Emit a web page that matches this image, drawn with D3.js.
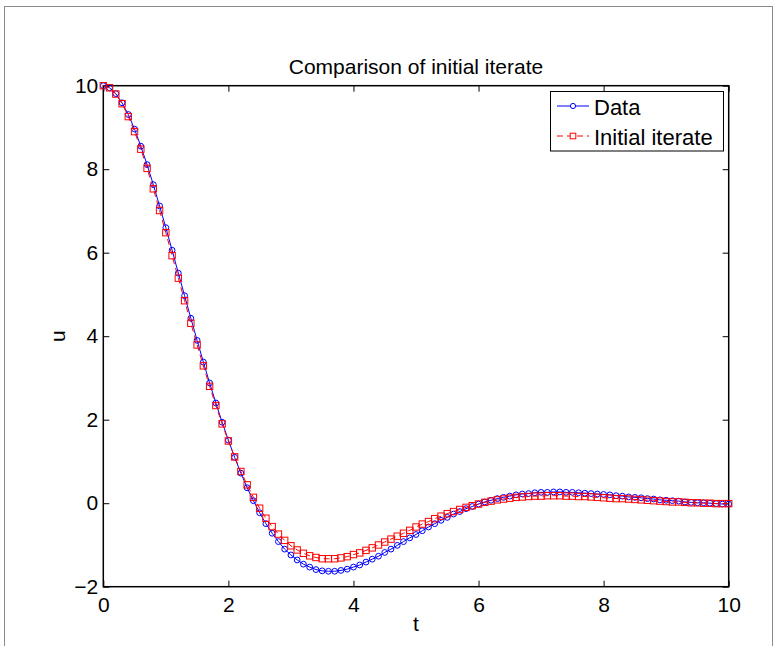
<!DOCTYPE html>
<html>
<head>
<meta charset="utf-8">
<script src="https://cdn.jsdelivr.net/npm/d3@7"></script>
<style>
	body { margin: 0; background: #fff; }
	text { font-family: "Liberation Sans", Arial, sans-serif; fill: #000; }
	.tick line { stroke: #000; stroke-width: 1; }
</style>
</head>
<body>
<script>
//comparison plot: data vs initial iterate, matlab-ish look
(function(){

//sample times t = 0 .. 10, step 0.1
var tValues = [0, 0.1, 0.2, 0.3, 0.4, 0.5, 0.6, 0.7, 0.8, 0.9,
	1, 1.1, 1.2, 1.3, 1.4, 1.5, 1.6, 1.7, 1.8, 1.9,
	2, 2.1, 2.2, 2.3, 2.4, 2.5, 2.6, 2.7, 2.8, 2.9,
	3, 3.1, 3.2, 3.3, 3.4, 3.5, 3.6, 3.7, 3.8, 3.9,
	4, 4.1, 4.2, 4.3, 4.4, 4.5, 4.6, 4.7, 4.8, 4.9,
	5, 5.1, 5.2, 5.3, 5.4, 5.5, 5.6, 5.7, 5.8, 5.9,
	6, 6.1, 6.2, 6.3, 6.4, 6.5, 6.6, 6.7, 6.8, 6.9,
	7, 7.1, 7.2, 7.3, 7.4, 7.5, 7.6, 7.7, 7.8, 7.9,
	8, 8.1, 8.2, 8.3, 8.4, 8.5, 8.6, 8.7, 8.8, 8.9,
	9, 9.1, 9.2, 9.3, 9.4, 9.5, 9.6, 9.7, 9.8, 9.9, 10];

//"Data" series (blue circles)
var dataValues = [10.00, 9.95, 9.81, 9.59, 9.31, 8.96, 8.55, 8.11, 7.63, 7.12,
	6.60, 6.06, 5.51, 4.97, 4.43, 3.90, 3.38, 2.88, 2.40, 1.94,
	1.51, 1.10, 0.72, 0.37, 0.06, -0.23, -0.49, -0.72, -0.92, -1.10,
	-1.24, -1.36, -1.46, -1.53, -1.59, -1.62, -1.63, -1.63, -1.61, -1.58,
	-1.53, -1.48, -1.41, -1.34, -1.27, -1.18, -1.10, -1.01, -0.92, -0.83,
	-0.75, -0.66, -0.57, -0.49, -0.41, -0.34, -0.26, -0.20, -0.13, -0.08,
	-0.02, 0.03, 0.07, 0.11, 0.14, 0.17, 0.20, 0.22, 0.23, 0.25,
	0.26, 0.26, 0.27, 0.27, 0.26, 0.26, 0.25, 0.24, 0.23, 0.22,
	0.21, 0.20, 0.18, 0.17, 0.15, 0.14, 0.13, 0.11, 0.10, 0.08,
	0.07, 0.06, 0.05, 0.03, 0.02, 0.01, 0.01, 0.00, -0.01, -0.02, -0.02];

//"Initial iterate" series (red squares, dashed)
var iterateValues = [10.00, 9.95, 9.80, 9.57, 9.26, 8.90, 8.48, 8.02, 7.53, 7.01,
	6.48, 5.93, 5.39, 4.85, 4.31, 3.79, 3.29, 2.80, 2.34, 1.90,
	1.49, 1.11, 0.76, 0.44, 0.14, -0.12, -0.36, -0.56, -0.74, -0.89,
	-1.02, -1.12, -1.20, -1.26, -1.30, -1.33, -1.33, -1.33, -1.31, -1.28,
	-1.23, -1.19, -1.13, -1.07, -1.00, -0.93, -0.86, -0.79, -0.72, -0.65,
	-0.57, -0.50, -0.44, -0.37, -0.31, -0.25, -0.20, -0.15, -0.10, -0.06,
	-0.02, 0.02, 0.05, 0.08, 0.10, 0.12, 0.14, 0.15, 0.16, 0.17,
	0.17, 0.18, 0.18, 0.18, 0.17, 0.17, 0.16, 0.16, 0.15, 0.14,
	0.13, 0.12, 0.11, 0.11, 0.10, 0.09, 0.08, 0.07, 0.06, 0.05,
	0.04, 0.03, 0.03, 0.02, 0.01, 0.01, 0.00, 0.00, -0.01, -0.01, -0.01];

//axis ticks + labels
var xTicks = [0, 2, 4, 6, 8, 10];
var yTicks = [-2, 0, 2, 4, 6, 8, 10];
var seriesNames = ["Data", "Initial iterate"];
var titleText = "Comparison of initial iterate";
var xLabel = "t", yLabel = "u";

window.onload = drawChart();

function drawChart(){

	var w = 775, h = 646;
	//plot box in page pixels
	var left = 103.3, right = 728.7, top = 85.7, bottom = 586.7;

	var svg = d3.select("body")
		.append("svg")
		.attr("width", w)
		.attr("height", h);

	//grey figure frame
	svg.append("rect")
		.attr("x", 4.5)
		.attr("y", 6.5)
		.attr("width", 768)
		.attr("height", 700)
		.attr("fill", "none")
		.attr("stroke", "#8a8a8a")
		.attr("stroke-width", 1);

	//scales
	var x = d3.scaleLinear()
		.domain([0, 10])
		.range([left, right]);

	var y = d3.scaleLinear()
		.domain([-2, 10])
		.range([bottom, top]);

	//AXES - ticks point inward, matlab style, on all four sides
	var fmt = d3.format("d"); //d3 gives the real minus sign

	svg.append("g")
		.attr("transform", "translate(0," + bottom + ")")
		.call(d3.axisBottom(x).tickValues(xTicks).tickFormat(fmt).tickSizeInner(-6).tickSizeOuter(0).tickPadding(10))
		.call(styleAxis);

	svg.append("g")
		.attr("transform", "translate(0," + top + ")")
		.call(d3.axisTop(x).tickValues(xTicks).tickFormat("").tickSizeInner(-6).tickSizeOuter(0))
		.call(styleAxis);

	svg.append("g")
		.attr("transform", "translate(" + left + ",0)")
		.call(d3.axisLeft(y).tickValues(yTicks).tickFormat(fmt).tickSizeInner(-6).tickSizeOuter(0).tickPadding(5))
		.call(styleAxis);

	svg.append("g")
		.attr("transform", "translate(" + right + ",0)")
		.call(d3.axisRight(y).tickValues(yTicks).tickFormat("").tickSizeInner(-6).tickSizeOuter(0))
		.call(styleAxis);

	//box around plot area
	svg.append("rect")
		.attr("x", left)
		.attr("y", top)
		.attr("width", right - left)
		.attr("height", bottom - top)
		.attr("fill", "none")
		.attr("stroke", "#000")
		.attr("stroke-width", 1.5);

	//SERIES
	var dataPts = tValues.map(function(t, i){ return {t: t, u: dataValues[i]}; });
	var iterPts = tValues.map(function(t, i){ return {t: t, u: iterateValues[i]}; });

	var line = d3.line()
		.x(function(d){ return x(d.t); })
		.y(function(d){ return y(d.u); });

	//blue line + circles first
	svg.append("path")
		.datum(dataPts)
		.attr("d", line)
		.attr("fill", "none")
		.attr("stroke", "#0000ff")
		.attr("stroke-width", 1);

	svg.selectAll(".dataMarker")
		.data(dataPts)
		.enter()
		.append("circle")
		.attr("class", "dataMarker")
		.attr("cx", function(d){ return x(d.t); })
		.attr("cy", function(d){ return y(d.u); })
		.attr("r", 2.9)
		.attr("fill", "none")
		.attr("stroke", "#0000ff")
		.attr("stroke-width", 1);

	//red dashed + squares on top
	svg.append("path")
		.datum(iterPts)
		.attr("d", line)
		.attr("fill", "none")
		.attr("stroke", "#ff0000")
		.attr("stroke-width", 1)
		.attr("stroke-dasharray", "6,4");

	var sq = 6.4;
	svg.selectAll(".iterMarker")
		.data(iterPts)
		.enter()
		.append("rect")
		.attr("class", "iterMarker")
		.attr("x", function(d){ return x(d.t) - sq/2; })
		.attr("y", function(d){ return y(d.u) - sq/2; })
		.attr("width", sq)
		.attr("height", sq)
		.attr("fill", "none")
		.attr("stroke", "#ff0000")
		.attr("stroke-width", 1);

	//TEXT
	svg.append("text")
		.attr("x", (left + right) / 2)
		.attr("y", 74)
		.attr("text-anchor", "middle")
		.style("font-size", "21px")
		.text(titleText);

	svg.append("text")
		.attr("x", (left + right) / 2)
		.attr("y", 631)
		.attr("text-anchor", "middle")
		.style("font-size", "21px")
		.text(xLabel);

	svg.append("text")
		.attr("transform", "translate(65," + ((top + bottom) / 2) + ") rotate(-90)")
		.attr("text-anchor", "middle")
		.style("font-size", "21px")
		.text(yLabel);

	//LEGEND
	var legend = svg.append("g").attr("class", "legend");

	legend.append("rect")
		.attr("x", 550.5)
		.attr("y", 91.5)
		.attr("width", 173)
		.attr("height", 59.5)
		.attr("fill", "#fff")
		.attr("stroke", "#000")
		.attr("stroke-width", 1);

	var rows = [
		{name: seriesNames[0], color: "#0000ff", dash: null, marker: "circle", yy: 106},
		{name: seriesNames[1], color: "#ff0000", dash: "6,4", marker: "square", yy: 136}
	];

	rows.forEach(function(r){
		legend.append("line")
			.attr("x1", 557)
			.attr("x2", 589)
			.attr("y1", r.yy)
			.attr("y2", r.yy)
			.attr("stroke", r.color)
			.attr("stroke-width", 1)
			.attr("stroke-dasharray", r.dash);
		if (r.marker == "circle") {
			legend.append("circle")
				.attr("cx", 573)
				.attr("cy", r.yy)
				.attr("r", 2.6)
				.attr("fill", "#fff")
				.attr("stroke", r.color);
		} else {
			legend.append("rect")
				.attr("x", 573 - 2.8)
				.attr("y", r.yy - 2.8)
				.attr("width", 5.6)
				.attr("height", 5.6)
				.attr("fill", "#fff")
				.attr("stroke", r.color);
		};
		legend.append("text")
			.attr("x", 594)
			.attr("y", r.yy + 8.5)
			.style("font-size", "22px")
			.text(r.name);
	});
};

//shared axis look: no domain path (box drawn separately), big tick labels
function styleAxis(g){
	g.select(".domain").remove();
	g.selectAll(".tick text")
		.style("font-size", "21px")
		.style("font-family", "'Liberation Sans', Arial, sans-serif")
		.attr("fill", "#000");
};

})();
</script>
</body>
</html>
